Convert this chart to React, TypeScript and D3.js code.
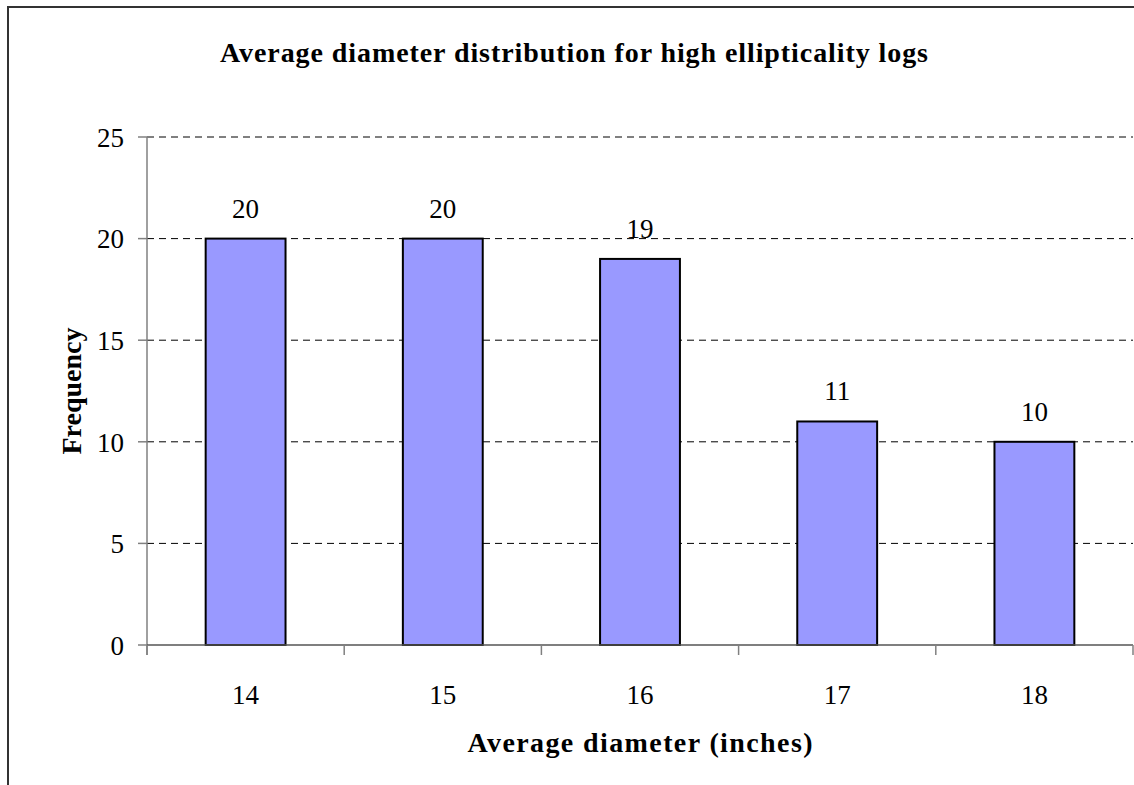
import React from "react";
import * as d3 from "d3";

// Diameter classes (inches) and how many high-ellipticality logs fall in each
const diameters: string[] = ["14", "15", "16", "17", "18"];
const frequencies: number[] = [20, 20, 19, 11, 10];
const yTicks: number[] = [0, 5, 10, 15, 20, 25];

const chartTitle = "Average diameter distribution for high ellipticality logs";
const xTitle = "Average diameter (inches)";
const yTitle = "Frequency";

const W = 1134;
const H = 785;
const plot = { left: 147, right: 1133, top: 137, bottom: 645 };
const serifStyle = { fontFamily: "'Liberation Serif', 'Times New Roman', Tinos, serif" };

export default function App() {
  const x = d3
    .scaleBand<string>()
    .domain(diameters)
    .range([plot.left, plot.right])
    .padding(0);
  const y = d3.scaleLinear().domain([0, 25]).range([plot.bottom, plot.top]);
  const barW = x.bandwidth() * 0.405;
  const boundaries = [...diameters.map((d) => x(d) as number), plot.right];

  return (
    <svg
      width={W}
      height={H}
      style={{ position: "absolute", left: 0, top: 0, background: "#fff" }}
    >
      {/* outer chart frame */}
      <rect x={8} y={7} width={1200} height={900} fill="#fff" stroke="#333" strokeWidth={2} />

      <text
        x={574}
        y={62}
        textAnchor="middle"
        style={serifStyle}
        fontWeight="bold"
        fontSize={28}
        textLength={708}
        lengthAdjust="spacing"
      >
        {chartTitle}
      </text>

      {/* horizontal dashed gridlines */}
      {yTicks
        .filter((t) => t > 0)
        .map((t) => (
          <line
            key={"g" + t}
            x1={plot.left}
            x2={plot.right}
            y1={y(t)}
            y2={y(t)}
            stroke="#000"
            strokeWidth={1}
            strokeDasharray="7 5"
          />
        ))}

      {/* y axis */}
      <line x1={plot.left} x2={plot.left} y1={plot.top} y2={plot.bottom + 10} stroke="#808080" strokeWidth={1.5} />
      {yTicks.map((t) => (
        <g key={"y" + t}>
          <line x1={plot.left - 9} x2={plot.left} y1={y(t)} y2={y(t)} stroke="#808080" strokeWidth={1.5} />
          <text
            x={124}
            y={y(t)}
            dy="0.36em"
            textAnchor="end"
            style={serifStyle}
            fontSize={27}
          >
            {t}
          </text>
        </g>
      ))}

      {/* bars with value labels */}
      {diameters.map((d, i) => {
        const cx = (x(d) as number) + x.bandwidth() / 2;
        return (
          <g key={"b" + d}>
            <rect
              x={cx - barW / 2}
              y={y(frequencies[i])}
              width={barW}
              height={y(0) - y(frequencies[i])}
              fill="#9999FF"
              stroke="#000"
              strokeWidth={2}
            />
            <text
              x={cx}
              y={y(frequencies[i]) - 21}
              textAnchor="middle"
              style={serifStyle}
              fontSize={27}
            >
              {frequencies[i]}
            </text>
          </g>
        );
      })}

      {/* x axis */}
      <line x1={plot.left} x2={plot.right} y1={plot.bottom} y2={plot.bottom} stroke="#555" strokeWidth={1.5} />
      {boundaries.map((bx, i) => (
        <line key={"xt" + i} x1={bx} x2={bx} y1={plot.bottom} y2={plot.bottom + 10} stroke="#808080" strokeWidth={1.5} />
      ))}
      {diameters.map((d) => (
        <text
          key={"xl" + d}
          x={(x(d) as number) + x.bandwidth() / 2}
          y={704}
          textAnchor="middle"
          style={serifStyle}
          fontSize={27}
        >
          {d}
        </text>
      ))}

      <text
        x={(plot.left + plot.right) / 2}
        y={752}
        textAnchor="middle"
        style={serifStyle}
        fontWeight="bold"
        fontSize={28}
        textLength={345}
        lengthAdjust="spacing"
      >
        {xTitle}
      </text>

      <text
        transform={`translate(81, ${(plot.top + plot.bottom) / 2}) rotate(-90)`}
        textAnchor="middle"
        style={serifStyle}
        fontWeight="bold"
        fontSize={28}
      >
        {yTitle}
      </text>
    </svg>
  );
}
